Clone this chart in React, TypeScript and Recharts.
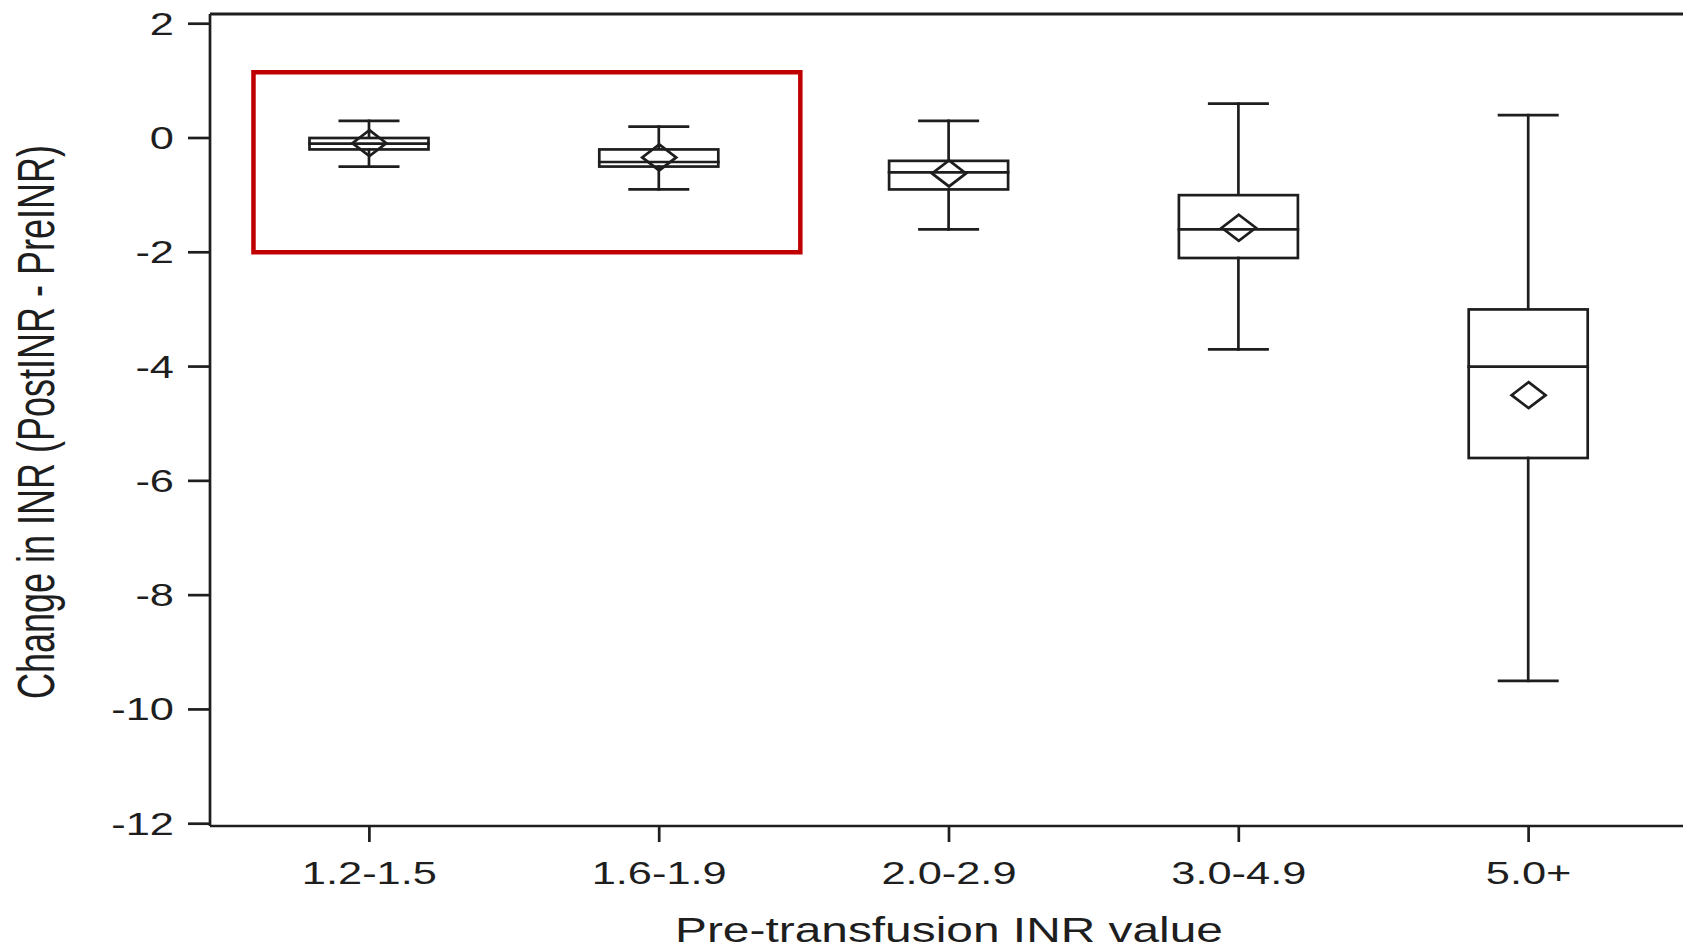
import React from 'react';
import {
  ComposedChart,
  Bar,
  Scatter,
  XAxis,
  YAxis,
  ReferenceArea,
  ReferenceLine,
} from 'recharts';

// Categories (pre-transfusion INR groups)
const categories = ['1.2-1.5', '1.6-1.9', '2.0-2.9', '3.0-4.9', '5.0+'];
const categoryIndex = [0, 1, 2, 3, 4];

// Box plot statistics (Change in INR)
const whiskerLow = [-0.5, -0.9, -1.6, -3.7, -9.5];
const q1Values = [-0.2, -0.5, -0.9, -2.1, -5.6];
const medianValues = [-0.1, -0.42, -0.6, -1.6, -4.0];
const q3Values = [0.0, -0.2, -0.4, -1.0, -3.0];
const whiskerHigh = [0.3, 0.2, 0.3, 0.6, 0.4];
const meanValues = [-0.09, -0.34, -0.62, -1.57, -4.5];

// Axis ticks
const yTicks = [2, 0, -2, -4, -6, -8, -10, -12];
const yDomain: [number, number] = [-12.04, 2.17];
const xDomain: [number, number] = [-0.55, 4.55];

// Highlight box (in data units)
const highlightX = [-0.4, 1.487];
const highlightY = [-2.0, 1.15];

const rows = categoryIndex.map((i) => ({
  idx: i,
  label: categories[i],
  whisker: [whiskerLow[i], whiskerHigh[i]],
  lo: whiskerLow[i],
  q1: q1Values[i],
  median: medianValues[i],
  q3: q3Values[i],
  hi: whiskerHigh[i],
  mean: meanValues[i],
}));

const INK = '#1e1e1e';
const FONT = '"Liberation Sans", Arial, sans-serif';
const SW = 2.7;

const BoxShape = (props: any) => {
  const { x, y, width, height, payload } = props;
  if (x == null || y == null || !payload) return null;
  const top = Math.min(y, y + height);
  const bottom = Math.max(y, y + height);
  const hi = payload.hi;
  const lo = payload.lo;
  const py = (v: number) => top + ((hi - v) / (hi - lo)) * (bottom - top);
  const cx = x + width / 2;
  const capHalf = width * 0.245;
  const yQ3 = py(payload.q3);
  const yQ1 = py(payload.q1);
  const yMed = py(payload.median);
  return (
    <g stroke={INK} strokeWidth={SW} fill="none" strokeLinecap="square">
      <line x1={cx - capHalf} x2={cx + capHalf} y1={top} y2={top} />
      <line x1={cx} x2={cx} y1={top} y2={yQ3} />
      <rect x={x} y={yQ3} width={width} height={yQ1 - yQ3} fill="#fff" />
      <line x1={x} x2={x + width} y1={yMed} y2={yMed} />
      <line x1={cx} x2={cx} y1={yQ1} y2={bottom} />
      <line x1={cx - capHalf} x2={cx + capHalf} y1={bottom} y2={bottom} />
    </g>
  );
};

const Diamond = (props: any) => {
  const { cx, cy } = props;
  if (cx == null || cy == null) return null;
  const hw = 17;
  const hh = 13;
  return (
    <path
      d={`M${cx},${cy - hh} L${cx + hw},${cy} L${cx},${cy + hh} L${cx - hw},${cy} Z`}
      fill="none"
      stroke={INK}
      strokeWidth={SW}
    />
  );
};

const XTick = (props: any) => {
  const { x, y, payload } = props;
  return (
    <text
      transform={`translate(${x},${y + 40}) scale(1.4,1)`}
      textAnchor="middle"
      fontFamily={FONT}
      fontSize={31}
      fill={INK}
    >
      {categories[payload.value]}
    </text>
  );
};

const YTick = (props: any) => {
  const { x, y, payload } = props;
  return (
    <text
      transform={`translate(${x},${y + 11}) scale(1.4,1)`}
      textAnchor="end"
      fontFamily={FONT}
      fontSize={31}
      fill={INK}
    >
      {payload.value}
    </text>
  );
};

const XTitle = (props: any) => {
  const vb = props.viewBox || {};
  const cx = vb.x + vb.width / 2;
  const by = vb.y + 116;
  return (
    <text
      transform={`translate(${cx},${by}) scale(1.33,1)`}
      textAnchor="middle"
      fontFamily={FONT}
      fontSize={36}
      fill={INK}
    >
      Pre-transfusion INR value
    </text>
  );
};

const YTitle = (props: any) => {
  const vb = props.viewBox || {};
  const cy = vb.y + vb.height / 2 + 2;
  return (
    <text
      transform={`translate(53.5,${cy}) scale(1.42,1) rotate(-90)`}
      textAnchor="middle"
      fontFamily={FONT}
      fontSize={36}
      fill={INK}
    >
      Change in INR (PostINR - PreINR)
    </text>
  );
};

export default function App() {
  return (
    <div
      style={{
        position: 'absolute',
        left: 0,
        top: 0,
        width: 1683,
        height: 950,
        overflow: 'hidden',
        background: '#fff',
      }}
    >
      <ComposedChart
        width={1700}
        height={950}
        data={rows}
        margin={{ top: 14, right: 12, bottom: 0, left: 0 }}
      >
        <XAxis
          dataKey="idx"
          type="number"
          domain={xDomain}
          allowDataOverflow
          ticks={categoryIndex}
          interval={0}
          height={124}
          tickSize={16}
          tickMargin={2}
          axisLine={{ stroke: INK, strokeWidth: SW }}
          tickLine={{ stroke: INK, strokeWidth: SW }}
          tick={<XTick />}
          label={XTitle}
        />
        <YAxis
          type="number"
          domain={yDomain}
          allowDataOverflow
          ticks={yTicks}
          interval={0}
          width={210}
          tickSize={22}
          tickMargin={14}
          axisLine={{ stroke: INK, strokeWidth: SW }}
          tickLine={{ stroke: INK, strokeWidth: SW }}
          tick={<YTick />}
          label={YTitle}
        />
        <ReferenceLine y={yDomain[1]} stroke={INK} strokeWidth={3} ifOverflow="visible" />
        <Bar
          dataKey="whisker"
          barSize={119}
          shape={<BoxShape />}
          isAnimationActive={false}
        />
        <Scatter
          dataKey="mean"
          shape={<Diamond />}
          isAnimationActive={false}
        />
        <ReferenceArea
          x1={highlightX[0]}
          x2={highlightX[1]}
          y1={highlightY[0]}
          y2={highlightY[1]}
          stroke="#C00000"
          strokeWidth={4.5}
          fill="none"
          fillOpacity={0}
          ifOverflow="visible"
        />
      </ComposedChart>
    </div>
  );
}
